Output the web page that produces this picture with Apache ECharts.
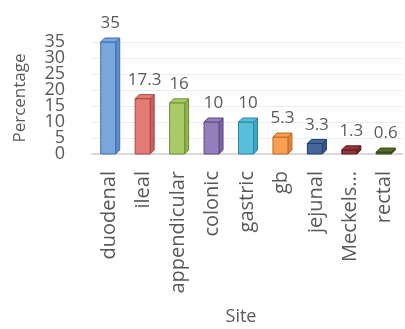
<!DOCTYPE html>
<html>
<head>
<meta charset="utf-8">
<script src="https://cdn.jsdelivr.net/npm/echarts@6/dist/echarts.min.js"></script>
<style>
  html, body { margin: 0; padding: 0; background: #fff; }
  #chart { width: 405px; height: 329px; }
</style>
</head>
<body>
<div id="chart"></div>
<script>
// Share of cases by site
const sites = ['duodenal', 'ileal', 'appendicular', 'colonic', 'gastric', 'gb', 'jejunal', 'Meckels...', 'rectal'];
const percentages = [35, 17.3, 16, 10, 10, 5.3, 3.3, 1.3, 0.6];
const yTicks = [0, 5, 10, 15, 20, 25, 30, 35];

// face colours per bar: [front, side/top shade, edge]
const palette = [
  ['#79a6de', '#5e8ccb', '#3f6fae'],
  ['#e47b76', '#c9605c', '#a84642'],
  ['#a9cb66', '#8fb24d', '#6f9132'],
  ['#957ebc', '#7b64a3', '#5f4888'],
  ['#57bfda', '#3fa5c2', '#2a86a2'],
  ['#f99f52', '#e08438', '#bf6a22'],
  ['#44679c', '#34548a', '#223f6d'],
  ['#93363a', '#7a2629', '#5c1719'],
  ['#566f2c', '#45591f', '#334416']
];

const chart = echarts.init(document.getElementById('chart'));
const font = '"Open Sans", "Liberation Sans", sans-serif';
const grey = '#595959';

// 3D-style column: front face, right side face and top face
function renderBar(params, api) {
  const i = api.value(0);
  const v = api.value(1);
  const base = api.coord([i, 0]);
  const top = api.coord([i, v]);
  const w = 15, d = 4;
  const x = base[0] - w / 2 - 1;
  const c = palette[i % palette.length];
  const edge = { stroke: c[2], lineWidth: 1 };
  return {
    type: 'group',
    children: [
      {
        type: 'polygon',
        shape: { points: [[x + w, top[1]], [x + w + d, top[1] - d], [x + w + d, base[1] - d], [x + w, base[1]]] },
        style: Object.assign({ fill: c[1] }, edge)
      },
      {
        type: 'rect',
        shape: { x: x, y: top[1], width: w, height: base[1] - top[1] },
        style: Object.assign({ fill: c[0] }, edge)
      },
      {
        type: 'polygon',
        shape: { points: [[x, top[1]], [x + d, top[1] - d], [x + w + d, top[1] - d], [x + w, top[1]]] },
        style: Object.assign({ fill: c[0] }, edge)
      },
      {
        type: 'text',
        x: x + (w + d) / 2,
        y: top[1] - d - 6,
        style: {
          text: String(v),
          fill: grey,
          font: '17px ' + font,
          align: 'center',
          verticalAlign: 'bottom'
        }
      }
    ]
  };
}

// value-axis tick labels, packed tightly so that every one stays visible
function renderTickLabel(params, api) {
  const v = api.value(1);
  const p = api.coord([0, v]);
  const band = api.size([1, 0])[0];
  return {
    type: 'text',
    x: p[0] - band / 2 - 27,
    y: p[1],
    style: {
      text: String(v),
      fill: grey,
      font: '18px ' + font,
      align: 'right',
      verticalAlign: 'middle'
    }
  };
}

chart.setOption({
  animation: false,
  grid: { left: 92, right: 3, top: 42, bottom: 175, containLabel: false, outerBoundsMode: 'none' },
  xAxis: {
    type: 'category',
    data: sites,
    name: 'Site',
    nameLocation: 'middle',
    nameGap: 154,
    nameMoveOverlap: false,
    nameTextStyle: { color: grey, fontSize: 18, fontFamily: font, padding: [0, 12, 0, 0] },
    axisLine: { lineStyle: { color: '#d9d9d9', width: 2 } },
    axisTick: { show: false },
    axisLabel: { rotate: 90, interval: 0, color: grey, fontSize: 20, fontFamily: font, margin: 17 }
  },
  yAxis: {
    type: 'value',
    min: yTicks[0],
    max: yTicks[yTicks.length - 1],
    interval: yTicks[1] - yTicks[0],
    name: 'Percentage',
    nameLocation: 'middle',
    nameGap: 63,
    nameMoveOverlap: false,
    nameTextStyle: { color: grey, fontSize: 17, fontFamily: font },
    axisLine: { show: false },
    axisTick: { show: false },
    axisLabel: { show: false },
    splitLine: { lineStyle: { color: '#ececec', width: 1 } }
  },
  series: [
    {
      type: 'custom',
      renderItem: renderBar,
      data: percentages.map((p, i) => [i, p]),
      encode: { x: 0, y: 1 },
      clip: false
    },
    {
      type: 'custom',
      renderItem: renderTickLabel,
      data: yTicks.map(t => [0, t]),
      encode: { x: 0, y: 1 },
      silent: true,
      clip: false
    }
  ]
});
</script>
</body>
</html>
